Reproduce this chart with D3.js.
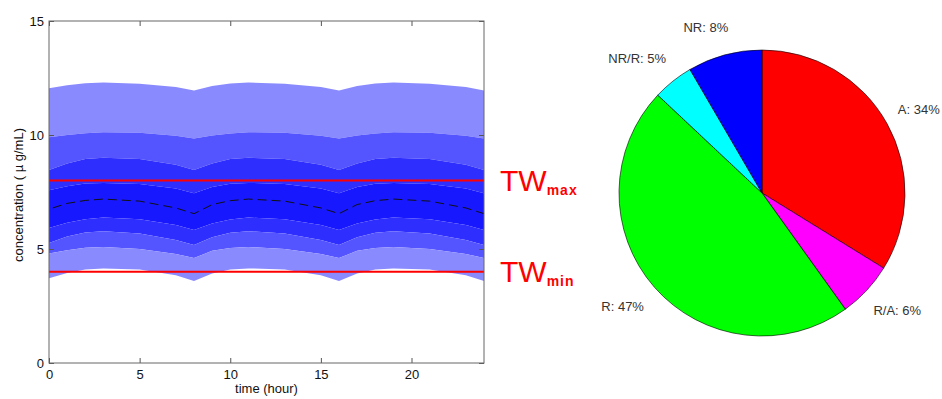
<!DOCTYPE html>
<html>
<head>
<meta charset="utf-8">
<script src="https://cdn.jsdelivr.net/npm/d3@7"></script>
<style>
body { margin: 0; background: #fff; }
text { font-family: "Liberation Sans", Arial, sans-serif; }
</style>
</head>
<body>
<div id="viz"></div>
<script>
// time points (hour)
var times = [0, 1, 2, 3, 5, 7, 8, 9, 10, 11, 13, 15, 16, 17, 18, 19, 21, 23, 24];

// concentration curves (ug/mL), outer to inner
var hi4 = [12.05, 12.18, 12.27, 12.3, 12.25, 12.1, 11.95, 12.15, 12.26, 12.3, 12.25, 12.1, 11.95, 12.15, 12.26, 12.3, 12.25, 12.1, 11.95];
var hi3 = [9.9, 10.0, 10.08, 10.12, 10.1, 9.97, 9.85, 9.98, 10.07, 10.12, 10.1, 9.97, 9.85, 9.98, 10.07, 10.12, 10.1, 9.97, 9.85];
var hi2 = [8.47, 8.75, 8.95, 9.0, 8.95, 8.7, 8.47, 8.75, 8.95, 9.0, 8.95, 8.7, 8.47, 8.75, 8.95, 9.0, 8.95, 8.7, 8.47];
var hi1 = [7.58, 7.75, 7.87, 7.9, 7.85, 7.65, 7.45, 7.72, 7.86, 7.9, 7.85, 7.65, 7.45, 7.72, 7.86, 7.9, 7.85, 7.65, 7.45];
var med = [6.75, 7.0, 7.13, 7.19, 7.1, 6.8, 6.55, 6.95, 7.12, 7.19, 7.1, 6.8, 6.55, 6.95, 7.12, 7.19, 7.1, 6.8, 6.55];
var lo1 = [5.92, 6.15, 6.3, 6.38, 6.3, 6.05, 5.83, 6.12, 6.29, 6.38, 6.3, 6.05, 5.83, 6.12, 6.29, 6.38, 6.3, 6.05, 5.83];
var lo2 = [5.26, 5.55, 5.72, 5.78, 5.68, 5.4, 5.18, 5.52, 5.71, 5.78, 5.68, 5.4, 5.18, 5.52, 5.71, 5.78, 5.68, 5.4, 5.18];
var lo3 = [4.8, 4.95, 5.05, 5.09, 5.0, 4.78, 4.6, 4.92, 5.04, 5.09, 5.0, 4.78, 4.6, 4.92, 5.04, 5.09, 5.0, 4.78, 4.6];
var lo4 = [3.72, 3.95, 4.1, 4.15, 4.1, 3.85, 3.6, 3.93, 4.1, 4.15, 4.1, 3.85, 3.6, 3.93, 4.1, 4.15, 4.1, 3.85, 3.6];

// therapeutic window
var twMax = 8;
var twMin = 4;

var xTicks = [0, 5, 10, 15, 20];
var yTicks = [0, 5, 10, 15];

// pie data (percent)
var pieNames = ["A", "R/A", "R", "NR/R", "NR"];
var pieValues = [33.8, 6.3, 46.9, 4.6, 8.4];
var pieColors = ["#ff0000", "#ff00ff", "#00ff00", "#00ffff", "#0000ff"];

var svg = d3.select("#viz").append("svg").attr("width", 942).attr("height", 399);

var plotL = 49, plotR = 484, plotT = 21, plotB = 363;

var x = d3.scaleLinear().domain([0, 24]).range([plotL, plotR]);
var y = d3.scaleLinear().domain([0, 15]).range([plotB, plotT]);

// bands: lower curve, upper curve, colour
var bands = [
  [hi3, hi4, "#8a8aff"],
  [hi2, hi3, "#5555ff"],
  [hi1, hi2, "#2e2eff"],
  [lo1, hi1, "#1818ff"],
  [lo2, lo1, "#2e2eff"],
  [lo3, lo2, "#5555ff"],
  [lo4, lo3, "#8a8aff"]
];

var area = d3.area()
  .x(function(d) { return x(d.t); })
  .y0(function(d) { return y(d.lo); })
  .y1(function(d) { return y(d.hi); });

svg.append("g").selectAll("path")
  .data(bands)
  .enter().append("path")
  .attr("fill", function(d) { return d[2]; })
  .attr("d", function(d) {
    return area(times.map(function(t, i) { return {t: t, lo: d[0][i], hi: d[1][i]}; }));
  });

// median dashed
var line = d3.line()
  .x(function(d, i) { return x(times[i]); })
  .y(function(d) { return y(d); });

svg.append("path")
  .attr("d", line(med))
  .attr("fill", "none")
  .attr("stroke", "#111")
  .attr("stroke-width", 1)
  .attr("stroke-dasharray", "9,5")
  .attr("stroke-dashoffset", -4);

// TW lines
[twMax, twMin].forEach(function(v) {
  svg.append("line")
    .attr("x1", x(0)).attr("x2", x(24))
    .attr("y1", y(v)).attr("y2", y(v))
    .attr("stroke", "#ff0000")
    .attr("stroke-width", 2);
});

// axes, ticks inward on all four sides
function styleAxis(g) {
  g.select(".domain").remove();
  g.selectAll("line").attr("stroke", "#555");
  g.selectAll("text").attr("fill", "#111").attr("font-size", 13).attr("font-family", "Liberation Sans, Arial, sans-serif");
}

svg.append("g")
  .attr("transform", "translate(0," + plotB + ")")
  .call(d3.axisBottom(x).tickValues(xTicks).tickSizeInner(-5).tickSizeOuter(0).tickPadding(7))
  .call(styleAxis);

svg.append("g")
  .attr("transform", "translate(0," + plotT + ")")
  .call(d3.axisTop(x).tickValues(xTicks).tickSizeInner(-5).tickSizeOuter(0).tickFormat(""))
  .call(styleAxis);

svg.append("g")
  .attr("transform", "translate(" + plotL + ",0)")
  .call(d3.axisLeft(y).tickValues(yTicks).tickSizeInner(-5).tickSizeOuter(0).tickPadding(5))
  .call(styleAxis);

svg.append("g")
  .attr("transform", "translate(" + plotR + ",0)")
  .call(d3.axisRight(y).tickValues(yTicks).tickSizeInner(-5).tickSizeOuter(0).tickFormat(""))
  .call(styleAxis);

svg.append("rect")
  .attr("x", plotL).attr("y", plotT)
  .attr("width", plotR - plotL).attr("height", plotB - plotT)
  .attr("fill", "none")
  .attr("stroke", "#666")
  .attr("stroke-width", 1);

svg.append("text")
  .attr("x", (plotL + plotR) / 2)
  .attr("y", 393)
  .attr("text-anchor", "middle")
  .attr("font-size", 13)
  .attr("fill", "#111")
  .text("time (hour)");

svg.append("text")
  .attr("transform", "translate(23,195) rotate(-90)")
  .attr("text-anchor", "middle")
  .attr("font-size", 13)
  .attr("fill", "#111")
  .text("concentration ( \u00b5 g/mL)");

// TW labels
[["max", twMax], ["min", twMin]].forEach(function(d) {
  var t = svg.append("text")
    .attr("x", 500)
    .attr("y", y(d[1]) + 10)
    .attr("fill", "#ff0000")
    .attr("font-size", 30);
  t.append("tspan").text("TW");
  t.append("tspan")
    .attr("dy", 4)
    .attr("font-size", 14)
    .attr("font-weight", "bold")
    .attr("letter-spacing", 1)
    .text(d[0]);
});

// pie
var cx = 762, cy = 193, r = 143;

var pie = d3.pie().sort(null).value(function(d) { return d; });
var arcs = pie(pieValues);

var arc = d3.arc().innerRadius(0).outerRadius(r);
var labelArc = d3.arc().innerRadius(r * 1.2).outerRadius(r * 1.2);

var pieG = svg.append("g").attr("transform", "translate(" + cx + "," + cy + ")");

pieG.selectAll("path")
  .data(arcs)
  .enter().append("path")
  .attr("d", arc)
  .attr("fill", function(d, i) { return pieColors[i]; })
  .attr("stroke", "#000")
  .attr("stroke-width", 0.6);

pieG.selectAll("text")
  .data(arcs)
  .enter().append("text")
  .attr("x", function(d) { return labelArc.centroid(d)[0]; })
  .attr("y", function(d) { return labelArc.centroid(d)[1]; })
  .attr("dx", function(d) { return labelArc.centroid(d)[0] > 0 ? -14 : 11; })
  .attr("dy", "0.35em")
  .attr("text-anchor", function(d) { return labelArc.centroid(d)[0] > 0 ? "start" : "end"; })
  .attr("font-size", 13)
  .attr("fill", "#333")
  .text(function(d, i) { return pieNames[i] + ": " + Math.round(d.value) + "%"; });
</script>
</body>
</html>
